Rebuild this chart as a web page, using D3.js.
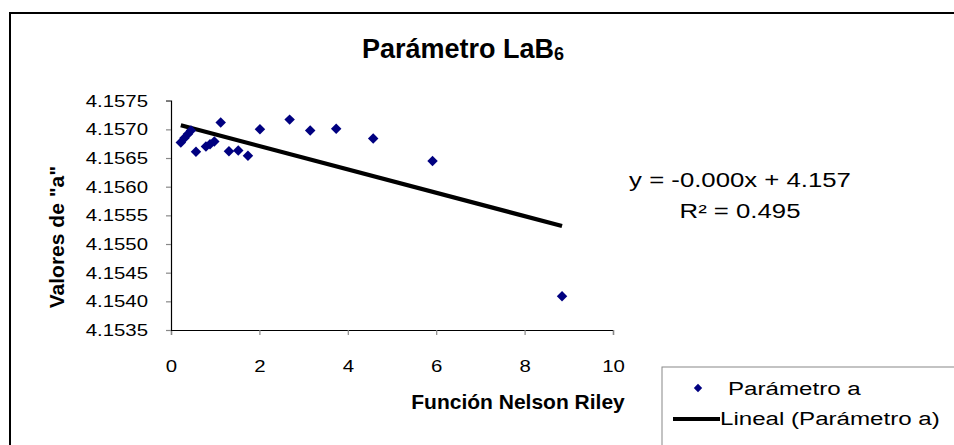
<!DOCTYPE html>
<html>
<head>
<meta charset="utf-8">
<script src="https://cdn.jsdelivr.net/npm/d3@7"></script>
<style>
  html, body { margin: 0; padding: 0; background: #fff; }
  svg { display: block; font-family: "Liberation Sans", Arial, sans-serif; }
</style>
</head>
<body>
<svg id="chart" width="954" height="445"></svg>
<script>
// Nelson-Riley function values and refined lattice parameter "a" of LaB6
const nelsonRiley = [0.222, 0.305, 0.384, 0.452, 0.565, 0.791, 0.882, 0.980, 1.124, 1.311,
                     1.522, 1.741, 2.012, 2.684, 3.149, 3.737, 4.574, 5.917, 8.847];
const paramA = [4.15677, 4.15685, 4.15692, 4.15698, 4.15661, 4.15670, 4.15674, 4.15679, 4.15712, 4.15662,
                4.15663, 4.15654, 4.15700, 4.15717, 4.15698, 4.15701, 4.15684, 4.15645, 4.15409];

const xTicks = [0, 2, 4, 6, 8, 10];
const yTicks = [4.1535, 4.1540, 4.1545, 4.1550, 4.1555, 4.1560, 4.1565, 4.1570, 4.1575];
const equationLines = ["y = -0.000x + 4.157", "R\u00B2 = 0.495"];
const legendLabels = ["Parámetro a", "Lineal (Parámetro a)"];

const svg = d3.select("#chart");
const WIDE = 1.25;   // horizontal stretch of the regular-weight labels

// places a horizontally stretched text at (x, y)
function wideText(parent, x, y, str, size, anchor, sx = WIDE) {
  return parent.append("text")
    .attr("transform", `translate(${x},${y}) scale(${sx},1)`)
    .attr("text-anchor", anchor || "start")
    .style("font-size", size + "px")
    .text(str);
}

// outer chart frame
svg.append("rect")
  .attr("x", 10).attr("y", 13).attr("width", 980).attr("height", 460)
  .attr("fill", "#fff").attr("stroke", "#000").attr("stroke-width", 2);

const plot = { left: 171, right: 613, top: 100.7, bottom: 330 };

const x = d3.scaleLinear().domain([0, 10]).range([plot.left, plot.right]);
const y = d3.scaleLinear().domain([4.1535, 4.1575]).range([plot.bottom, plot.top]);

// axes
const xAxis = svg.append("g")
  .attr("transform", `translate(0,${plot.bottom})`)
  .call(d3.axisBottom(x).tickValues(xTicks).tickFormat(d3.format("d")).tickSize(5).tickPadding(25));
const yPad = 18;
const yAxis = svg.append("g")
  .attr("transform", `translate(${plot.left},0)`)
  .call(d3.axisLeft(y).tickValues(yTicks).tickFormat(d3.format(".4f")).tickSize(5).tickPadding(yPad));

[xAxis, yAxis].forEach(g => {
  g.select(".domain").attr("stroke", "#000").attr("stroke-width", 1.2);
  g.selectAll(".tick line").attr("stroke", "#888").attr("stroke-width", 1.2);
  g.selectAll(".tick text")
    .attr("fill", "#000")
    .style("font-family", "'Liberation Sans', Arial, sans-serif")
    .style("font-size", "17px")
    .attr("transform", `scale(${WIDE * 0.96},1)`);
});
yAxis.selectAll(".tick text").attr("x", -(5 + yPad) / (WIDE * 0.96));

// least-squares linear trend over the data range
const n = nelsonRiley.length;
const mx = d3.mean(nelsonRiley), my = d3.mean(paramA);
let sxy = 0, sxx = 0;
for (let i = 0; i < n; i++) {
  sxy += (nelsonRiley[i] - mx) * (paramA[i] - my);
  sxx += (nelsonRiley[i] - mx) ** 2;
}
const slope = sxy / sxx;
const intercept = my - slope * mx;
const [xMin, xMax] = d3.extent(nelsonRiley);

svg.append("line")
  .attr("x1", x(xMin)).attr("y1", y(intercept + slope * xMin))
  .attr("x2", x(xMax)).attr("y2", y(intercept + slope * xMax))
  .attr("stroke", "#000").attr("stroke-width", 4.2);

// data markers
const diamond = d3.symbol().type(d3.symbolDiamond2).size(70);
svg.append("g").selectAll("path")
  .data(nelsonRiley.map((d, i) => [d, paramA[i]]))
  .join("path")
  .attr("d", diamond)
  .attr("transform", d => `translate(${x(d[0])},${y(d[1])})`)
  .attr("fill", "#000080");

// title
const title = svg.append("text")
  .attr("x", 463).attr("y", 58)
  .attr("text-anchor", "middle")
  .style("font-size", "27px").style("font-weight", "bold");
title.append("tspan").text("Parámetro LaB");
title.append("tspan").attr("dy", 2).style("font-size", "18px").text("6");

// axis titles
svg.append("text")
  .attr("x", 518).attr("y", 409)
  .attr("text-anchor", "middle")
  .style("font-size", "21px").style("font-weight", "bold")
  .text("Función Nelson Riley");

svg.append("text")
  .attr("transform", "translate(64,237) rotate(-90)")
  .attr("text-anchor", "middle")
  .style("font-size", "21px").style("font-weight", "bold")
  .text('Valores de "a"');

// trendline equation
equationLines.forEach((line, i) => {
  wideText(svg, 740, 187 + i * 31, line, 19.5, "middle", 1.32);
});

// legend
const legend = svg.append("g");
legend.append("rect")
  .attr("x", 662).attr("y", 367).attr("width", 320).attr("height", 100)
  .attr("fill", "#fff").attr("stroke", "#888").attr("stroke-width", 1);
legend.append("path")
  .attr("d", d3.symbol().type(d3.symbolDiamond2).size(45))
  .attr("transform", "translate(698,388)")
  .attr("fill", "#000080");
legend.append("line")
  .attr("x1", 673).attr("x2", 720).attr("y1", 419).attr("y2", 419)
  .attr("stroke", "#000").attr("stroke-width", 4);
legendLabels.forEach((label, i) => {
  wideText(legend, i === 0 ? 728 : 720, 395 + i * 30, label, 19, "start", 1.27);
});
</script>
</body>
</html>
